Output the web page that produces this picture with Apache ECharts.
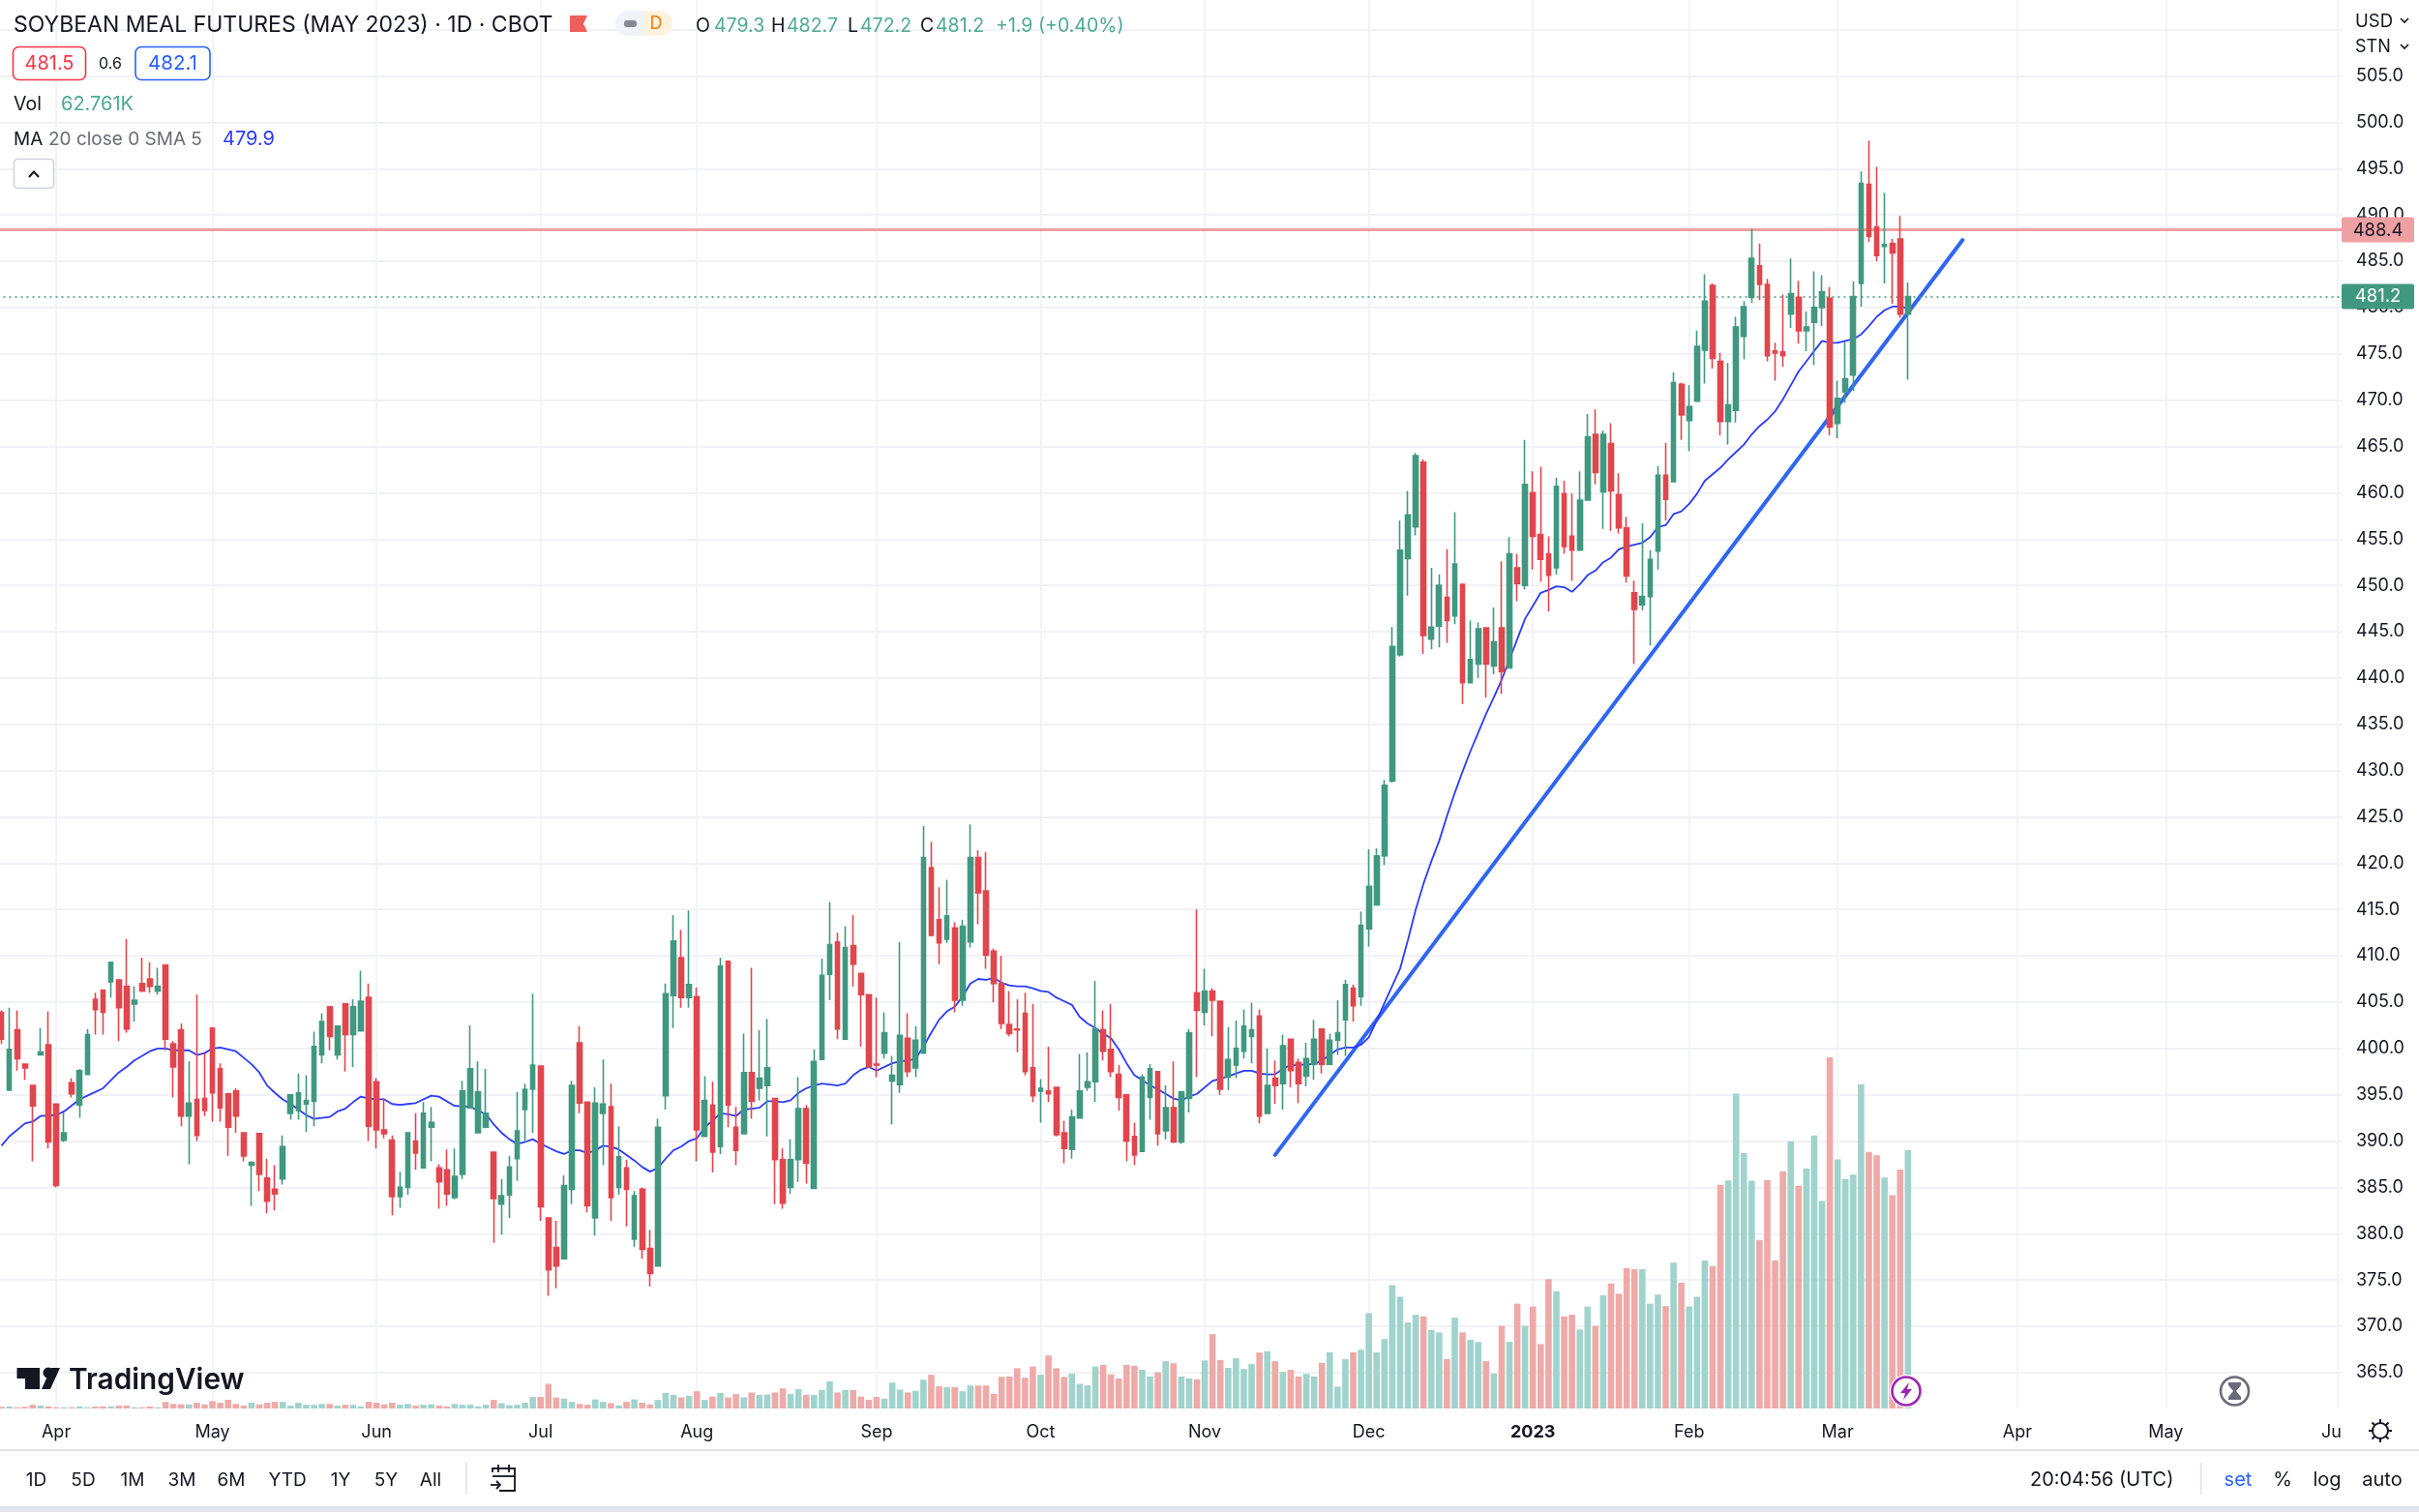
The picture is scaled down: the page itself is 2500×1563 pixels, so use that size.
<!DOCTYPE html>
<html><head><meta charset="utf-8">
<script src="https://cdn.jsdelivr.net/npm/echarts@6/dist/echarts.min.js"></script>
<style>html,body{margin:0;padding:0;background:#fff}#c{width:2500px;height:1563px}</style>
</head><body><div id="c"></div>
<script>
const opens=[403.9,395.5,402.0,398.3,396.0,399.3,400.4,394.0,390.1,396.3,393.9,397.2,405.3,406.3,407.2,407.4,406.7,404.8,407.0,407.5,406.2,409.0,400.5,402.0,392.7,394.5,394.6,402.2,397.8,395.1,395.4,390.9,387.4,390.8,386.0,384.8,385.9,393.0,393.3,394.0,394.3,399.3,404.5,399.3,404.8,401.5,401.9,405.5,396.4,391.2,390.1,384.0,
385.0,390.0,387.1,391.5,387.1,386.9,383.9,386.4,393.6,390.9,391.5,388.8,383.2,384.2,388.1,393.4,395.6,398.1,381.7,378.5,377.3,384.8,400.6,394.2,381.7,393.0,393.7,385.0,387.1,379.4,384.8,378.4,376.5,394.9,405.7,409.8,405.5,405.6,390.5,393.9,389.4,409.4,391.5,390.8,397.4,395.7,396.0,394.6,388.0,385.0,388.0,393.5,
384.9,398.8,408.0,411.5,401.0,411.1,408.1,405.8,398.3,399.5,396.5,396.1,401.1,397.9,399.5,419.5,413.9,411.8,413.0,405.2,411.5,420.6,417.0,410.5,407.0,402.6,402.1,403.8,397.9,395.4,395.4,395.8,390.9,389.1,392.5,395.8,396.4,402.0,399.9,397.2,395.0,390.5,388.9,394.7,397.5,391.1,393.6,389.9,394.6,406.0,403.9,406.2,405.1,
396.9,398.2,399.7,401.3,403.5,393.0,396.8,396.2,401.0,398.5,397.0,398.3,402.1,398.3,400.9,403.1,406.5,405.6,412.9,415.5,420.8,428.9,442.5,452.9,456.3,463.3,444.2,445.6,448.7,446.7,450.1,439.5,441.5,445.4,441.3,445.4,441.1,451.9,450.0,460.0,455.5,453.4,451.9,459.9,455.3,453.8,459.2,466.3,460.1,465.3,459.8,456.2,449.2,447.9,448.8,453.7,461.9,461.2,471.7,467.8,469.9,475.4,482.4,474.2,467.7,468.9,476.9,481.1,484.5,482.5,475.3,475.2,479.3,481.1,477.5,478.4,480.0,481.0,467.5,470.9,472.7,482.6,493.3,488.7,486.6,486.9,487.4,479.3];
const closes=[401.0,399.9,398.9,397.9,393.8,399.6,389.9,385.2,390.9,395.1,397.6,401.5,404.2,403.9,409.3,404.4,402.1,405.2,406.2,406.7,406.7,401.0,398.0,392.7,394.1,390.6,393.3,395.2,393.6,391.5,392.7,388.4,387.7,386.4,383.5,384.3,389.4,395.0,395.2,394.4,400.2,402.9,401.3,402.4,401.5,404.5,405.1,391.6,391.2,390.8,384.0,385.0,
390.9,388.7,393.0,392.0,385.6,384.3,386.2,395.4,397.8,395.3,393.0,383.8,384.1,387.2,391.1,395.6,398.2,382.9,376.1,376.5,385.2,396.0,394.1,383.0,394.1,394.0,383.9,388.3,384.8,384.1,378.3,375.7,391.5,405.9,411.6,405.5,406.9,391.2,394.4,388.8,408.9,393.9,389.0,397.4,394.3,396.8,397.9,388.0,383.3,388.0,393.5,387.6,
398.6,407.9,411.2,402.1,410.9,409.1,405.8,398.0,398.2,401.7,397.1,401.4,397.5,400.9,420.6,412.2,411.4,414.3,405.2,413.2,420.6,416.8,410.1,407.0,402.7,401.6,402.0,397.5,394.9,395.7,395.1,390.7,389.2,392.6,395.4,396.4,402.1,399.7,397.5,394.7,390.0,388.5,396.9,397.8,390.8,393.6,389.9,395.3,401.7,404.1,406.2,405.2,395.6,
398.8,400.0,402.4,402.0,392.7,396.0,396.0,400.3,397.6,396.2,398.9,401.0,398.3,400.9,401.7,406.9,404.6,413.3,417.5,420.8,428.4,443.4,453.8,457.6,464.0,444.6,445.5,450.0,446.2,452.3,439.5,442.0,445.3,441.5,443.9,440.7,453.4,450.2,460.9,455.3,452.8,451.1,460.7,454.2,453.8,459.2,466.05,462.2,466.3,460.2,456.2,451.0,447.4,448.8,452.8,461.9,459.3,471.9,468.4,469.3,475.8,480.7,474.5,467.7,469.5,477.9,480.1,485.3,482.5,474.8,475.1,474.8,481.5,477.5,477.9,480.0,481.7,467.1,470.2,472.3,481.2,493.4,487.7,485.6,486.8,485.9,479.3,481.2];
const lows=[400.5,395.5,397.6,396.6,387.8,399.3,389.2,385.0,389.9,394.7,392.5,397.2,401.5,401.5,405.5,400.8,401.7,402.9,406.1,406.0,405.8,399.8,394.7,391.6,387.5,390.0,392.7,392.1,392.1,388.4,390.9,387.8,383.0,384.6,382.2,382.5,385.3,392.3,392.3,391.0,391.6,398.4,399.8,398.8,397.5,398.0,401.9,390.0,389.2,390.3,382.0,382.8,
384.2,386.9,387.1,387.8,382.7,383.0,383.7,385.9,393.5,390.9,391.4,379.0,379.9,381.7,385.7,389.9,390.9,381.4,373.3,374.1,377.3,383.2,393.0,382.3,379.8,387.4,381.4,384.2,380.8,378.6,377.3,374.3,376.5,393.4,402.2,404.4,404.4,387.8,390.5,386.6,388.6,391.5,387.4,390.8,392.4,394.4,390.5,383.2,382.7,384.3,385.6,385.4,
384.9,398.8,405.2,401.0,401.0,406.7,400.2,398.0,396.9,398.9,391.8,395.2,396.9,396.9,399.5,412.1,409.1,411.4,403.9,404.6,410.9,413.4,408.6,405.0,402.1,401.3,399.6,397.1,394.2,392.0,394.2,390.5,387.6,388.1,392.5,395.4,394.2,398.7,396.9,393.3,387.8,387.4,388.8,392.3,389.5,390.2,389.8,389.7,393.1,396.9,402.5,401.3,395.0,
395.5,396.8,398.9,398.4,391.9,393.0,394.0,393.4,395.8,394.1,395.9,396.6,397.3,398.3,399.3,399.2,402.9,404.6,411.0,415.5,419.8,428.7,442.3,448.9,455.4,442.6,443.1,443.3,443.8,445.8,437.2,439.5,440.0,437.9,440.4,438.3,441.1,448.3,449.6,451.7,450.4,447.2,451.2,453.4,450.5,453.8,459.2,460.9,456.1,455.9,455.6,450.3,441.5,447.3,443.5,451.7,457.0,461.2,465.7,464.5,469.9,471.8,473.4,466.2,465.2,467.6,474.4,480.5,480.8,474.2,472.1,473.6,477.8,476.1,475.3,473.8,478.0,466.2,465.9,469.7,471.0,480.1,487.1,485.0,482.6,480.4,478.9,472.2];
const highs=[404.1,404.4,404.1,398.4,396.0,402.2,404.0,394.0,393.1,396.8,397.8,402.1,406.0,406.3,409.3,407.5,411.8,406.7,409.8,409.3,408.7,409.0,400.8,402.7,398.6,405.8,399.5,402.2,398.4,395.1,395.7,390.9,387.8,390.9,388.1,387.4,390.6,395.0,397.3,397.1,401.8,403.8,404.5,402.4,404.8,405.3,408.4,407.0,396.8,394.6,390.6,386.7,
390.9,393.0,394.2,393.7,387.5,389.1,389.2,396.5,402.5,398.6,397.8,388.8,385.9,388.4,395.3,396.2,405.9,398.1,381.7,381.4,386.3,396.5,402.4,394.3,395.8,398.8,396.2,391.6,388.0,384.6,385.0,380.4,392.4,407.0,414.4,412.8,414.9,406.6,397.0,396.4,409.8,409.5,393.7,401.6,408.7,402.0,403.2,394.6,389.2,390.2,396.9,393.9,
399.9,409.7,415.8,412.5,413.2,414.4,408.1,405.8,405.5,403.9,399.2,411.5,403.8,402.4,424.0,422.3,417.4,418.2,413.6,413.9,424.2,421.4,421.2,410.8,410.0,406.2,405.3,406.0,404.8,396.7,400.2,395.8,392.2,393.4,399.4,399.6,407.3,404.1,404.8,398.2,395.1,392.0,397.2,398.3,397.5,396.0,398.6,395.4,402.1,415.0,408.6,406.5,405.1,
402.3,403.0,404.2,404.95,404.2,400.0,398.7,401.5,401.0,398.9,400.6,403.1,402.1,401.6,405.2,407.4,406.9,414.8,421.5,421.6,429.0,445.5,457.0,460.2,464.3,463.6,451.9,451.2,453.9,457.9,450.1,446.2,446.0,445.5,447.6,452.6,455.2,453.4,465.7,462.3,462.8,455.3,461.6,461.3,459.9,462.3,468.5,469.0,466.7,467.5,462.1,457.4,450.5,456.7,453.8,462.9,465.4,473.0,471.9,471.6,477.5,483.6,482.6,475.1,474.0,479.0,480.7,488.5,486.9,483.1,476.2,481.4,485.3,482.9,479.6,483.9,483.5,482.2,472.1,476.3,482.8,494.7,498.0,495.2,492.4,487.4,489.9,482.7];
const volumes=[0.4,0.5,0.3,0.4,0.9,0.7,0.5,0.3,0.3,0.3,0.5,0.3,0.5,0.5,0.5,0.7,0.7,0.3,0.3,0.5,0.3,1.6,1.1,1.0,1.0,1.4,1.0,1.8,1.4,2.1,1.1,0.7,1.4,1.0,1.4,1.6,1.6,0.7,1.4,0.9,0.9,1.1,1.1,0.7,0.9,0.9,0.5,1.6,1.4,1.0,1.4,0.9,1.1,0.7,0.9,1.0,0.7,0.5,1.1,0.9,0.9,0.5,0.9,2.1,1.3,0.8,0.9,1.4,2.8,2.8,6.0,2.7,2.4,1.6,1.1,0.9,2.2,1.6,1.3,0.7,1.6,2.2,1.4,1.0,2.1,3.8,3.3,2.7,3.1,4.2,2.1,2.9,3.8,2.7,3.5,2.7,3.9,3.3,3.4,3.9,4.9,3.5,4.7,3.3,3.3,4.5,6.6,3.9,4.5,4.5,2.9,2.1,2.8,2.4,6.3,4.6,3.9,4.3,7.0,8.2,5.4,5.2,5.2,4.2,5.6,5.6,5.6,3.6,7.7,7.8,9.8,7.5,10.2,8.2,12.9,9.8,7.7,8.5,6.0,5.6,10.2,10.6,8.3,7.3,10.6,10.4,9.4,7.8,8.8,11.5,11.0,7.8,7.3,7.1,11.7,
18.1,11.8,9.9,12.2,9.6,10.8,13.6,13.9,11.5,8.9,9.4,7.8,8.4,7.8,11.1,13.7,5.3,12.0,13.7,14.3,23.2,13.7,16.9,30.0,27.2,20.9,22.8,22.4,19.1,18.5,12.0,22.1,18.5,16.7,16.2,11.5,8.5,20.1,16.2,25.5,20.1,24.8,15.7,31.5,28.5,22.4,22.8,19.2,24.8,20.1,27.5,30.4,27.9,34.1,33.9,33.9,25.5,27.7,24.9,35.5,30.6,24.8,27.2,36.0,34.6,54.4,55.5,76.6,62.1,55.4,41.0,55.6,36.0,57.7,65.0,54.2,58.4,66.4,50.5,85.4,60.6,55.8,56.9,78.8,62.4,61.6,56.2,51.9,58.1,62.8];
const maIndex=[0,1,3,4,5,7,8,10,11,13,15,16,17,18,19,20,21,22,24,25,26,27,28,30,31,32,33,34,35,36,37,38,39,40,41,42,43,44,45,46,47,48,49,50,51,52,53,55,56,58,60,61,62,63,64,65,66,67,68,69,70,71,72,73,74,75,76,77,78,79,80,81,82,83,84,85,86,87,88,89,90,91,92,93,94,95,96,97,98,99,100,101,102,103,104,105,107,108,109,110,111,112,114,115,116,117,118,119,120,121,122,123,124,125,126,127,128,129,130,131,132,133,134,135,136,137,138,139,140,141,142,143,144,145,146,147,148,149,150,151,152,153,155,157,159,160,161,162,163,164,165,166,167,168,169,170,171,172,173,174,175,176,177,179,180,181,182,183,184,185,186,187,188,189,190,191,192,193,194,195,196,197,198,199,200,201,202,203,204,205,206,207,208,209,210,211,212,213,214,215,216,217,218,220,221,222,223,224,225,226,227,228,229,230,231,232,233,234,235,236,237,238,239,240,241,242,243,244];
const maValue=[389.5,390.5,391.9,392.1,392.7,392.8,393.2,394.5,394.9,395.7,397.4,398.0,398.7,399.2,399.7,400.0,400.0,399.8,399.8,399.3,399.5,400.0,400.1,399.7,399.0,398.3,397.4,396.0,395.2,394.5,394.0,393.4,392.8,392.4,392.5,392.6,393.2,393.5,394.2,394.8,394.6,394.5,394.5,394.0,393.9,394.0,394.1,394.9,394.8,393.8,393.7,393.3,392.9,391.8,390.9,390.2,389.7,389.9,390.2,389.7,389.3,388.9,388.6,389.0,389.0,388.7,389.0,389.5,389.4,389.1,388.5,387.9,387.2,386.7,387.1,388.1,389.0,389.4,390.0,390.3,391.5,392.2,393.0,392.9,392.7,393.4,393.5,393.6,394.3,394.3,394.2,394.4,395.2,395.7,396.0,396.2,396.0,396.2,397.1,397.7,398.0,397.6,398.4,398.6,398.7,398.9,400.2,401.7,403.1,404.0,404.5,405.6,407.0,407.5,407.4,407.6,407.1,406.8,406.7,406.7,406.5,406.2,406.1,405.5,405.1,404.7,403.4,402.7,402.2,401.6,401.1,399.9,398.4,397.1,396.6,396.0,395.6,395.1,394.6,394.4,394.8,395.1,396.5,397.0,397.6,397.6,397.3,397.2,397.2,397.8,398.2,398.2,398.3,398.3,398.7,399.3,399.9,400.1,400.1,400.4,401.2,403.0,404.9,408.6,411.7,415.0,417.8,420.2,422.4,425.1,427.6,429.9,432.1,434.1,436.1,437.9,439.8,442.0,444.2,446.4,447.8,449.2,449.5,449.9,449.8,449.3,450.1,451.1,451.6,452.5,453.0,453.9,454.2,454.4,454.6,455.2,456.3,456.5,457.7,458.0,458.8,459.9,461.3,462.7,463.6,464.4,465.2,466.3,467.2,467.9,468.8,470.1,471.6,473.1,474.2,475.3,476.4,476.2,476.2,476.4,476.6,477.1,478.0,479.0,479.7,480.1,480.1,479.9];
const trendIndex=[163,251];
const trendValue=[388.5,487.3];
const resistance=488.4;
const lastClose=481.2;
const monthIndex=[7,27,48,69,89,112,133,154,175,196,216,235,258,277,299];
const monthLabels=['Apr','May','Jun','Jul','Aug','Sep','Oct','Nov','Dec','2023','Feb','Mar','Apr','May','Ju'];
const slotCount=300;

const FONT='Inter';
const UP='#419880', DOWN='#e0464d';
const categories=Array.from({length:slotCount},()=>'');
monthIndex.forEach((m,i)=>{categories[m]=monthLabels[i];});
const isMonth=(i)=>monthIndex.indexOf(i)>=0;

function T(text,x,y,size,fill,align,weight){return {type:'text',z:100,silent:true,style:{text:text,x:x,y:y,fill:fill||'#131722',font:(weight||'normal')+' '+size+'px '+FONT,align:align||'left',verticalAlign:'middle'}};}
function R(x,y,w,h,o){return Object.assign({type:'rect',z:o.z||99,silent:true,shape:{x:x,y:y,width:w,height:h,r:o.r||0},style:{fill:o.fill||'none',stroke:o.stroke||null,lineWidth:o.lw||1}});}
function L(pts,stroke,lw){return {type:'polyline',z:100,silent:true,shape:{points:pts},style:{stroke:stroke,lineWidth:lw||2,fill:'none'}};}
function P(pts,fill){return {type:'polygon',z:100,silent:true,shape:{points:pts},style:{fill:fill}};}
function C(x,y,r,fill,stroke,lw){return {type:'circle',z:100,silent:true,shape:{cx:x,cy:y,r:r},style:{fill:fill,stroke:stroke||null,lineWidth:lw||1}};}

const G='#4fa897';
const chrome=[
 T('SOYBEAN MEAL FUTURES (MAY 2023) · 1D · CBOT',14,26,23),
 P([[589,16],[607,16],[603,24.5],[607,33],[589,33]],'#f0605a'),
 R(636,11,30,26,{fill:'#f0f3fa',r:[13,0,0,13]}),
 R(665,11,30,26,{fill:'#fff3e0',r:[0,13,13,0]}),
 R(645,21,13,7,{fill:'#868993',r:3}),
 T('D',678,25,18,'#f57c00','center'),
 T('O',719,27,19.5),T('479.3',738,27,19.5,G),
 T('H',797,27,19.5),T('482.7',813,27,19.5,G),
 T('L',876,27,19.5),T('472.2',889,27,19.5,G),
 T('C',951,27,19.5),T('481.2',967,27,19.5,G),
 T('+1.9 (+0.40%)',1029,27,19.5,G),
 R(13.5,48.5,75,34,{stroke:'#f23645',lw:1.6,r:6,fill:'#fff'}),
 T('481.5',51,66,20,'#f23645','center'),
 T('0.6',114,66,16,'#131722','center'),
 R(140,48.5,77,34,{stroke:'#2962ff',lw:1.6,r:6,fill:'#fff'}),
 T('482.1',178.5,66,20.5,'#2962ff','center'),
 T('Vol',14,108,19.5),T('62.761K',63,108,20,G),
 T('MA',14,144,19),T('20 close 0 SMA 5',50,144,19,'#6a6d78'),T('479.9',230,144,20,'#2a3bff'),
 R(14.5,164.5,41,30,{fill:'#fff',stroke:'#d1d4dc',lw:1.6,r:4}),
 L([[30,183],[35,177.5],[40,183]],'#131722',2),
 T('USD',2434,22,18.5),L([[2481,19],[2485,23],[2489,19]],'#131722',1.6),
 T('STN',2434,49,18),L([[2481,46],[2485,50],[2489,46]],'#131722',1.6),
 // watermark
 P([[17.5,1414],[41,1414],[41,1436],[26,1436],[26,1425],[17.5,1425]],'#131722'),
 C(50,1419,5.5,'#131722'),
 P([[53,1414],[62,1414],[52,1436],[43,1436]],'#131722'),
 T('TradingView',71,1427,29.8,'#131722','left','600'),
 // event markers
 C(1970,1438,17,'#fff'),C(1970,1438,14.5,'#fff','#9c27b0',2.6),
 P([[1973,1429],[1964,1440],[1969,1440],[1967,1447],[1976,1436],[1971,1436]],'#9c27b0'),
 C(2309.5,1438,14.5,'#fff','#6a6d78',2.6),
 P([[2303,1429],[2316,1429],[2316,1432],[2311,1438],[2316,1444],[2316,1447],[2303,1447],[2303,1444],[2308,1438],[2303,1432]],'#6a6d78'),
 // gear at axis corner
 C(2460,1479,8,'#fff','#131722',2),
 L([[2460,1467],[2460,1471]],'#131722',2),L([[2460,1487],[2460,1491]],'#131722',2),
 L([[2448,1479],[2452,1479]],'#131722',2),L([[2468,1479],[2472,1479]],'#131722',2),
 L([[2451.5,1470.5],[2454.3,1473.3]],'#131722',2),L([[2465.7,1484.7],[2468.5,1487.5]],'#131722',2),
 L([[2451.5,1487.5],[2454.3,1484.7]],'#131722',2),L([[2465.7,1473.3],[2468.5,1470.5]],'#131722',2),
 // toolbar
 R(0,1498,2500,2,{fill:'#e0e3eb'}),
 R(0,1557,2500,6,{fill:'#e0e3eb'}),
 T('1D',37.5,1530,19,null,'center'),T('5D',86,1530,19,null,'center'),T('1M',137,1530,19,null,'center'),
 T('3M',188,1530,19,null,'center'),T('6M',239,1530,19,null,'center'),T('YTD',297,1530,19,null,'center'),
 T('1Y',352,1530,19,null,'center'),T('5Y',399,1530,19,null,'center'),T('All',445,1530,19,null,'center'),
 R(481,1512,1.6,33,{fill:'#e0e3eb'}),
 L([[509,1522],[509,1518],[532,1518],[532,1541],[516,1541]],'#131722',1.8),
 L([[509,1526],[532,1526]],'#131722',1.8),
 L([[515,1514],[515,1522]],'#131722',1.8),L([[526,1514],[526,1522]],'#131722',1.8),
 L([[507,1535],[517,1535]],'#131722',1.8),L([[513,1531],[517,1535],[513,1539]],'#131722',1.8),
 T('20:04:56 (UTC)',2098,1530,20),
 R(2274,1512,1.6,33,{fill:'#e0e3eb'}),
 T('set',2313,1530,20,'#2962ff','center'),T('%',2359,1530,20,null,'center'),
 T('log',2405,1530,20,null,'center'),T('auto',2462,1530,20,null,'center')
];

const GRID_LINE='#f1f2f5';
const tag=(bg,fg)=>({width:75,height:25,lineHeight:25,align:'center',verticalAlign:'middle',backgroundColor:bg,color:fg,borderRadius:2,fontFamily:FONT,fontSize:18.5,padding:[1,0,0,0]});
const chart=echarts.init(document.getElementById('c'),null,{renderer:'canvas',width:2500,height:1563});
chart.setOption({
 animation:false,backgroundColor:'#fff',
 grid:[
  {left:-2.5,width:2422.5,top:0,height:1456,outerBoundsMode:'none'},
  {left:-2.5,width:2422.5,top:30.7,height:1388.2,outerBoundsMode:'none'}
 ],
 xAxis:[
  {type:'category',gridIndex:0,data:categories,boundaryGap:true,
   axisLine:{show:false},
   axisTick:{show:false,alignWithLabel:true,interval:(i)=>isMonth(i)},
   splitLine:{show:true,alignWithLabel:true,interval:(i)=>isMonth(i),lineStyle:{color:GRID_LINE,width:1.6}},
   axisLabel:{show:true,interval:(i)=>isMonth(i),margin:16,color:'#131722',fontFamily:FONT,fontSize:18,
     formatter:(v)=>v==='2023'?'{b|2023}':(v==='Ju'?'{j|Ju}':v),
     rich:{b:{fontWeight:'bold',fontFamily:FONT,fontSize:18,color:'#131722'},j:{padding:[0,13,0,0],fontFamily:FONT,fontSize:18,color:'#131722'}}}},
  {type:'category',gridIndex:1,data:categories,boundaryGap:true,axisLine:{show:false},axisTick:{show:false},axisLabel:{show:false},splitLine:{show:false}}
 ],
 yAxis:[
  {type:'value',gridIndex:0,min:0,max:342.6,show:false,splitLine:{show:false}},
  {type:'value',gridIndex:1,position:'right',min:365,max:510,interval:5,
   axisLine:{show:false},axisTick:{show:false},
   splitLine:{show:true,lineStyle:{color:GRID_LINE,width:2}},
   axisLabel:{show:true,margin:15,color:'#131722',fontFamily:FONT,fontSize:18,padding:[3,0,0,0],
     formatter:(v)=>v>=510?'':v.toFixed(1)}}
 ],
 graphic:{elements:chrome},
 series:[
  {name:'Vol',type:'bar',xAxisIndex:0,yAxisIndex:0,z:1,barWidth:6.6,silent:true,data:volumes,
   itemStyle:{color:(p)=>closes[p.dataIndex]>=opens[p.dataIndex]?'#a0d3cc':'#eeaaa8'}},
  {name:'Levels',type:'line',xAxisIndex:1,yAxisIndex:1,z:2,silent:true,data:[],symbol:'none',
   markLine:{silent:true,symbol:'none',animation:false,
    data:[
     {yAxis:resistance,lineStyle:{color:'#efa0a3',width:3,type:'solid'},
      label:{show:true,position:'end',distance:0,formatter:(p)=>'{a|'+Number(p.value).toFixed(1)+'}',rich:{a:tag('#efa0a3','#131722')}}},
     {yAxis:lastClose,lineStyle:{color:UP,width:1.6,type:[2,4]},
      label:{show:true,position:'end',distance:0,formatter:(p)=>'{a|'+Number(p.value).toFixed(1)+'}',rich:{a:tag(UP,'#ffffff')}}}
    ]}},
  {name:'Trend',type:'line',xAxisIndex:1,yAxisIndex:1,z:3,silent:true,symbol:'none',
   data:trendIndex.map((x,i)=>[x,trendValue[i]]),lineStyle:{color:'#2f66f2',width:4,cap:'round'}},
  {name:'MA 20',type:'line',xAxisIndex:1,yAxisIndex:1,z:4,silent:true,symbol:'none',
   data:maIndex.map((x,i)=>[x,maValue[i]]),lineStyle:{color:'#2a3bff',width:1.8}},
  {name:'Price',type:'candlestick',xAxisIndex:1,yAxisIndex:1,z:5,silent:true,barWidth:5.2,
   data:opens.map((o,i)=>[o,closes[i],lows[i],highs[i]]),
   itemStyle:{color:UP,color0:DOWN,borderColor:UP,borderColor0:DOWN,borderWidth:1.6}}
 ]
});
</script></body></html>
